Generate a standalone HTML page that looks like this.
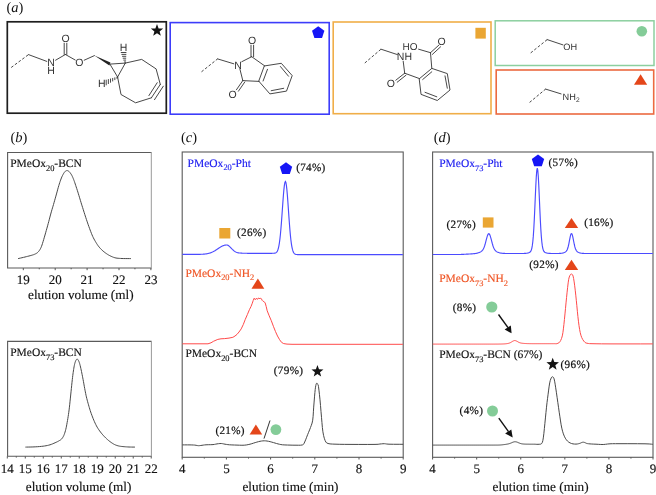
<!DOCTYPE html>
<html><head><meta charset="utf-8"><title>Figure</title>
<style>html,body{margin:0;padding:0;background:#fff}svg{display:block;will-change:transform;text-rendering:geometricPrecision}</style></head>
<body><svg width="656" height="495" viewBox="0 0 656 495">
<rect width="656" height="495" fill="#fff"/>
<text x="6.5" y="11.9" font-family="'Liberation Serif', serif" font-size="14.5" fill="#111">(<tspan font-style="italic">a</tspan>)</text>
<rect x="7.3" y="21.8" width="159" height="91.4" fill="none" stroke="#1e1e1e" stroke-width="1.7"/>
<rect x="170.2" y="22.6" width="159" height="91.6" fill="none" stroke="#3d3dfa" stroke-width="1.6"/>
<rect x="333.2" y="22.0" width="157.8" height="91.7" fill="none" stroke="#f0ae48" stroke-width="1.6"/>
<rect x="495.2" y="20.8" width="158.8" height="44.7" fill="none" stroke="#8ccf9f" stroke-width="1.5"/>
<rect x="496.2" y="70.0" width="157.5" height="44.0" fill="none" stroke="#ec6a40" stroke-width="1.6"/>
<polygon points="157.00,24.10 158.60,28.39 163.18,28.59 159.60,31.44 160.82,35.86 157.00,33.33 153.18,35.86 154.40,31.44 150.82,28.59 155.40,28.39" fill="#141414"/>
<polygon points="318.20,26.20 324.38,30.69 322.02,37.96 314.38,37.96 312.02,30.69" fill="#1616f6"/>
<rect x="475.4" y="27.8" width="10.4" height="10.8" fill="#eaa633"/>
<circle cx="641.8" cy="31.2" r="5.3" fill="#84cc98"/>
<polygon points="640.60,74.20 647.20,84.80 634.00,84.80" fill="#e4461a"/>
<g stroke="#333" stroke-width="0.9" fill="none" stroke-linecap="round"><line x1="11.2" y1="67.5" x2="28.5" y2="54.6" stroke-dasharray="2.7,1.9" stroke-linecap="butt"/>
<line x1="28.5" y1="54.6" x2="46.8" y2="61.4" />
<text x="51" y="66.3" font-family="'Liberation Sans', sans-serif" font-size="10.5" fill="#333" stroke="none" text-anchor="middle">N</text>
<text x="51" y="73.8" font-family="'Liberation Sans', sans-serif" font-size="10.5" fill="#333" stroke="none" text-anchor="middle">H</text>
<line x1="55.6" y1="60.2" x2="65.4" y2="54.5" />
<line x1="64.2" y1="54.5" x2="64.2" y2="43.2" />
<line x1="66.8" y1="54.5" x2="66.8" y2="43.2" />
<text x="65.6" y="41.6" font-family="'Liberation Sans', sans-serif" font-size="10.5" fill="#333" stroke="none" text-anchor="middle">O</text>
<line x1="65.4" y1="54.5" x2="75.2" y2="60.0" />
<text x="79.4" y="66.3" font-family="'Liberation Sans', sans-serif" font-size="10.5" fill="#333" stroke="none" text-anchor="middle">O</text>
<line x1="84.2" y1="60.2" x2="94.4" y2="55.6" />
<polygon points="94.4,55.6 110.4,62.6 109.4,65.6" fill="#222" stroke="none"/>
<line x1="109.9" y1="64.1" x2="125.3" y2="63.1" />
<line x1="109.9" y1="64.1" x2="117.6" y2="77.0" />
<line x1="125.3" y1="63.1" x2="117.6" y2="77.0" />
<line x1="124.40" y1="62.00" x2="125.60" y2="62.00" />
<line x1="123.76" y1="60.10" x2="125.68" y2="60.10" />
<line x1="123.12" y1="58.20" x2="125.76" y2="58.20" />
<line x1="122.48" y1="56.30" x2="125.84" y2="56.30" />
<line x1="121.84" y1="54.40" x2="125.92" y2="54.40" />
<line x1="121.20" y1="52.50" x2="126.00" y2="52.50" />
<text x="123.6" y="51.2" font-family="'Liberation Sans', sans-serif" font-size="10.5" fill="#333" stroke="none" text-anchor="middle">H</text>
<line x1="117.00" y1="77.20" x2="117.00" y2="78.40" />
<line x1="114.84" y1="77.78" x2="114.84" y2="79.70" />
<line x1="112.68" y1="78.36" x2="112.68" y2="81.00" />
<line x1="110.52" y1="78.94" x2="110.52" y2="82.30" />
<line x1="108.36" y1="79.52" x2="108.36" y2="83.60" />
<line x1="106.20" y1="80.10" x2="106.20" y2="84.90" />
<text x="101.8" y="86.8" font-family="'Liberation Sans', sans-serif" font-size="10.5" fill="#333" stroke="none" text-anchor="middle">H</text>
<polyline points="125.3,63.1 141.7,59.4 156.1,68.9 160.3,84.4"/>
<polyline points="151.4,97.8 135.6,102.8 121,94.5 117.6,77.0"/>
<line x1="160.3" y1="84.4" x2="151.4" y2="97.8" />
<line x1="157.2" y1="82.7" x2="148.9" y2="95.6" />
<line x1="163.3" y1="86.2" x2="154.5" y2="99.7" />
<line x1="201.5" y1="71.8" x2="217.6" y2="58.9" stroke-dasharray="2.7,1.9" stroke-linecap="butt"/>
<line x1="217.6" y1="58.9" x2="233.8" y2="63.8" />
<text x="238" y="68.9" font-family="'Liberation Sans', sans-serif" font-size="10.5" fill="#333" stroke="none" text-anchor="middle">N</text>
<line x1="241.8" y1="61.7" x2="251.7" y2="56.7" />
<line x1="251.0" y1="56.7" x2="251.0" y2="45.2" />
<line x1="253.6" y1="56.7" x2="253.6" y2="45.2" />
<text x="252" y="43.6" font-family="'Liberation Sans', sans-serif" font-size="10.5" fill="#333" stroke="none" text-anchor="middle">O</text>
<line x1="240.0" y1="69.4" x2="242.8" y2="80.6" />
<line x1="242.8" y1="80.6" x2="236.4" y2="89.8" />
<line x1="244.8" y1="82.0" x2="238.4" y2="91.2" />
<text x="232.6" y="97.7" font-family="'Liberation Sans', sans-serif" font-size="10.5" fill="#333" stroke="none" text-anchor="middle">O</text>
<line x1="251.7" y1="56.7" x2="264.7" y2="65.9" />
<line x1="259" y1="81.4" x2="242.8" y2="80.6" />
<polygon points="264.7,65.9 281.3,63.3 292.2,75.6 286.5,91.1 269.9,93.9 259,81.4"/>
<line x1="267.5" y1="69.3" x2="263.1" y2="81.0" />
<line x1="280.4" y1="66.5" x2="288.5" y2="76.2" />
<line x1="271.2" y1="90.7" x2="283.7" y2="88.3" />
<line x1="364.8" y1="63" x2="381" y2="49.2" stroke-dasharray="2.7,1.9" stroke-linecap="butt"/>
<line x1="381" y1="49.2" x2="397.4" y2="54.6" />
<text x="404.4" y="59.6" font-family="'Liberation Sans', sans-serif" font-size="10.5" fill="#333" stroke="none" text-anchor="middle">NH</text>
<line x1="403.2" y1="61.2" x2="404.7" y2="73.2" />
<line x1="404.7" y1="73.2" x2="395.8" y2="80.2" />
<line x1="406.0" y1="75.2" x2="397.2" y2="82.2" />
<text x="390.8" y="86.8" font-family="'Liberation Sans', sans-serif" font-size="10.5" fill="#333" stroke="none" text-anchor="middle">O</text>
<line x1="404.7" y1="73.2" x2="419.5" y2="78.6" />
<polygon points="419.5,78.6 431.8,68.4 447.3,73.6 450,90 437.3,100.5 421.4,94.5"/>
<line x1="422.7" y1="79.5" x2="431.8" y2="71.8" />
<line x1="445" y1="75.9" x2="447.3" y2="88.2" />
<line x1="425" y1="92.3" x2="436.8" y2="96.8" />
<line x1="431.8" y1="68.4" x2="430.5" y2="52.7" />
<line x1="430.5" y1="52.7" x2="438.8" y2="45.2" />
<line x1="432.4" y1="54.4" x2="440.6" y2="46.8" />
<text x="441.6" y="45.2" font-family="'Liberation Sans', sans-serif" font-size="10.5" fill="#333" stroke="none" text-anchor="middle">O</text>
<line x1="430.5" y1="52.7" x2="418.6" y2="49.2" />
<text x="410.0" y="49.8" font-family="'Liberation Sans', sans-serif" font-size="10" fill="#333" stroke="none" text-anchor="middle">HO</text>
<line x1="530.7" y1="52.9" x2="547.2" y2="39.6" stroke-dasharray="2.7,1.9" stroke-linecap="butt"/>
<line x1="547.2" y1="39.6" x2="563.0" y2="44.9" />
<text x="570.2" y="49.8" font-family="'Liberation Sans', sans-serif" font-size="9.2" fill="#333" stroke="none" text-anchor="middle">OH</text>
<line x1="529.6" y1="102.4" x2="545.6" y2="89.1" stroke-dasharray="2.7,1.9" stroke-linecap="butt"/>
<line x1="545.6" y1="89.1" x2="561.1" y2="93.9" />
<text x="562.6" y="99.8" font-family="'Liberation Sans', sans-serif" font-size="9.2" fill="#333" stroke="none">NH<tspan font-size="6.6" dy="2.2">2</tspan></text></g>
<text x="10.5" y="141.6" font-family="'Liberation Serif', serif" font-size="14.5" fill="#111">(<tspan font-style="italic">b</tspan>)</text>
<path d="M151.3,152.5 H7.6 V268 H151.3" fill="none" stroke="#5a5a5a" stroke-width="1.1"/>
<line x1="151.3" y1="152" x2="151.3" y2="268.5" stroke="#999" stroke-width="1"/>
<line x1="23.30" y1="268.0" x2="23.30" y2="270.2" stroke="#555" stroke-width="1"/>
<text x="23.30" y="284.1" font-family="'Liberation Serif', serif" font-size="13" text-anchor="middle" fill="#111" stroke="#111" stroke-width="0.15">19</text>
<line x1="39.25" y1="268.0" x2="39.25" y2="269.3" stroke="#555" stroke-width="1"/>
<line x1="55.20" y1="268.0" x2="55.20" y2="270.2" stroke="#555" stroke-width="1"/>
<text x="55.20" y="284.1" font-family="'Liberation Serif', serif" font-size="13" text-anchor="middle" fill="#111" stroke="#111" stroke-width="0.15">20</text>
<line x1="71.15" y1="268.0" x2="71.15" y2="269.3" stroke="#555" stroke-width="1"/>
<line x1="87.10" y1="268.0" x2="87.10" y2="270.2" stroke="#555" stroke-width="1"/>
<text x="87.10" y="284.1" font-family="'Liberation Serif', serif" font-size="13" text-anchor="middle" fill="#111" stroke="#111" stroke-width="0.15">21</text>
<line x1="103.05" y1="268.0" x2="103.05" y2="269.3" stroke="#555" stroke-width="1"/>
<line x1="119.00" y1="268.0" x2="119.00" y2="270.2" stroke="#555" stroke-width="1"/>
<text x="119.00" y="284.1" font-family="'Liberation Serif', serif" font-size="13" text-anchor="middle" fill="#111" stroke="#111" stroke-width="0.15">22</text>
<line x1="134.95" y1="268.0" x2="134.95" y2="269.3" stroke="#555" stroke-width="1"/>
<line x1="150.90" y1="268.0" x2="150.90" y2="270.2" stroke="#555" stroke-width="1"/>
<text x="150.90" y="284.1" font-family="'Liberation Serif', serif" font-size="13" text-anchor="middle" fill="#111" stroke="#111" stroke-width="0.15">23</text>
<path d="M18.10,258.60 L19.05,258.38 L20.40,258.08 L21.96,257.72 L23.55,257.35 L25.00,257.00 L26.33,256.67 L27.67,256.34 L28.96,256.00 L30.16,255.69 L31.20,255.40 L32.05,255.16 L32.74,254.95 L33.34,254.76 L33.91,254.55 L34.50,254.30 L35.13,254.02 L35.75,253.73 L36.35,253.41 L36.94,253.04 L37.50,252.60 L38.04,252.09 L38.56,251.53 L39.06,250.91 L39.54,250.23 L40.00,249.50 L40.42,248.78 L40.79,248.06 L41.15,247.26 L41.54,246.27 L42.00,245.00 L42.53,243.37 L43.12,241.46 L43.74,239.36 L44.37,237.18 L45.00,235.00 L45.63,232.80 L46.28,230.50 L46.94,228.17 L47.58,225.85 L48.20,223.60 L48.79,221.40 L49.36,219.20 L49.92,217.05 L50.47,214.97 L51.00,213.00 L51.52,211.18 L52.01,209.50 L52.50,207.87 L52.99,206.23 L53.50,204.50 L54.03,202.66 L54.57,200.77 L55.12,198.84 L55.66,196.91 L56.20,195.00 L56.73,193.07 L57.27,191.10 L57.79,189.15 L58.31,187.30 L58.80,185.60 L59.27,184.07 L59.72,182.65 L60.15,181.35 L60.58,180.13 L61.00,179.00 L61.41,177.96 L61.81,177.01 L62.21,176.15 L62.60,175.36 L63.00,174.60 L63.40,173.88 L63.81,173.20 L64.21,172.59 L64.61,172.05 L65.00,171.60 L65.37,171.24 L65.72,170.97 L66.08,170.78 L66.43,170.66 L66.80,170.60 L67.18,170.59 L67.55,170.62 L67.94,170.74 L68.35,170.95 L68.80,171.30 L69.30,171.80 L69.86,172.45 L70.43,173.19 L70.99,173.98 L71.50,174.80 L71.96,175.63 L72.38,176.49 L72.79,177.41 L73.19,178.37 L73.60,179.40 L74.01,180.47 L74.41,181.58 L74.82,182.76 L75.24,184.02 L75.70,185.40 L76.20,186.92 L76.74,188.58 L77.30,190.31 L77.86,192.07 L78.40,193.80 L78.92,195.51 L79.44,197.23 L79.96,198.95 L80.48,200.68 L81.00,202.40 L81.53,204.12 L82.07,205.85 L82.62,207.57 L83.16,209.29 L83.70,211.00 L84.23,212.68 L84.76,214.35 L85.29,216.01 L85.83,217.69 L86.40,219.40 L86.99,221.16 L87.61,222.96 L88.23,224.77 L88.87,226.56 L89.50,228.30 L90.13,230.00 L90.77,231.69 L91.41,233.34 L92.05,234.92 L92.70,236.40 L93.36,237.77 L94.02,239.06 L94.69,240.27 L95.35,241.41 L96.00,242.50 L96.62,243.51 L97.22,244.44 L97.81,245.31 L98.43,246.16 L99.10,247.00 L99.82,247.84 L100.57,248.66 L101.35,249.47 L102.16,250.25 L103.00,251.00 L103.88,251.74 L104.81,252.46 L105.76,253.16 L106.69,253.81 L107.60,254.40 L108.47,254.93 L109.31,255.40 L110.14,255.84 L110.97,256.23 L111.80,256.60 L112.61,256.95 L113.39,257.26 L114.19,257.54 L115.04,257.79 L116.00,258.00 L117.04,258.16 L118.13,258.28 L119.30,258.37 L120.59,258.44 L122.00,258.50 L123.74,258.55 L125.78,258.57 L127.84,258.59 L129.64,258.59 L130.90,258.60" fill="none" stroke="#484848" stroke-width="1"/>
<text x="10.2" y="167.2" font-family="'Liberation Serif', serif" font-size="11.5" fill="#111" stroke="#111" stroke-width="0.15">PMeOx<tspan font-size="8.4" dy="3.8">20</tspan><tspan dy="-3.8">-BCN</tspan></text>
<text x="80.8" y="299.3" font-family="'Liberation Serif', serif" font-size="13.2" text-anchor="middle" fill="#111" stroke="#111" stroke-width="0.15">elution volume (ml)</text>
<path d="M151.4,341.4 H7.6 V456.3 H151.4" fill="none" stroke="#5a5a5a" stroke-width="1.1"/>
<line x1="151.4" y1="340.9" x2="151.4" y2="456.8" stroke="#999" stroke-width="1"/>
<line x1="7.30" y1="456.3" x2="7.30" y2="458.5" stroke="#555" stroke-width="1"/>
<text x="7.30" y="473.4" font-family="'Liberation Serif', serif" font-size="13" text-anchor="middle" fill="#111" stroke="#111" stroke-width="0.15">14</text>
<line x1="16.29" y1="456.3" x2="16.29" y2="457.6" stroke="#555" stroke-width="1"/>
<line x1="25.29" y1="456.3" x2="25.29" y2="458.5" stroke="#555" stroke-width="1"/>
<text x="25.29" y="473.4" font-family="'Liberation Serif', serif" font-size="13" text-anchor="middle" fill="#111" stroke="#111" stroke-width="0.15">15</text>
<line x1="34.28" y1="456.3" x2="34.28" y2="457.6" stroke="#555" stroke-width="1"/>
<line x1="43.28" y1="456.3" x2="43.28" y2="458.5" stroke="#555" stroke-width="1"/>
<text x="43.28" y="473.4" font-family="'Liberation Serif', serif" font-size="13" text-anchor="middle" fill="#111" stroke="#111" stroke-width="0.15">16</text>
<line x1="52.27" y1="456.3" x2="52.27" y2="457.6" stroke="#555" stroke-width="1"/>
<line x1="61.27" y1="456.3" x2="61.27" y2="458.5" stroke="#555" stroke-width="1"/>
<text x="61.27" y="473.4" font-family="'Liberation Serif', serif" font-size="13" text-anchor="middle" fill="#111" stroke="#111" stroke-width="0.15">17</text>
<line x1="70.26" y1="456.3" x2="70.26" y2="457.6" stroke="#555" stroke-width="1"/>
<line x1="79.26" y1="456.3" x2="79.26" y2="458.5" stroke="#555" stroke-width="1"/>
<text x="79.26" y="473.4" font-family="'Liberation Serif', serif" font-size="13" text-anchor="middle" fill="#111" stroke="#111" stroke-width="0.15">18</text>
<line x1="88.25" y1="456.3" x2="88.25" y2="457.6" stroke="#555" stroke-width="1"/>
<line x1="97.25" y1="456.3" x2="97.25" y2="458.5" stroke="#555" stroke-width="1"/>
<text x="97.25" y="473.4" font-family="'Liberation Serif', serif" font-size="13" text-anchor="middle" fill="#111" stroke="#111" stroke-width="0.15">19</text>
<line x1="106.24" y1="456.3" x2="106.24" y2="457.6" stroke="#555" stroke-width="1"/>
<line x1="115.24" y1="456.3" x2="115.24" y2="458.5" stroke="#555" stroke-width="1"/>
<text x="115.24" y="473.4" font-family="'Liberation Serif', serif" font-size="13" text-anchor="middle" fill="#111" stroke="#111" stroke-width="0.15">20</text>
<line x1="124.23" y1="456.3" x2="124.23" y2="457.6" stroke="#555" stroke-width="1"/>
<line x1="133.23" y1="456.3" x2="133.23" y2="458.5" stroke="#555" stroke-width="1"/>
<text x="133.23" y="473.4" font-family="'Liberation Serif', serif" font-size="13" text-anchor="middle" fill="#111" stroke="#111" stroke-width="0.15">21</text>
<line x1="142.22" y1="456.3" x2="142.22" y2="457.6" stroke="#555" stroke-width="1"/>
<line x1="151.22" y1="456.3" x2="151.22" y2="458.5" stroke="#555" stroke-width="1"/>
<text x="151.22" y="473.4" font-family="'Liberation Serif', serif" font-size="13" text-anchor="middle" fill="#111" stroke="#111" stroke-width="0.15">22</text>
<path d="M25.40,447.10 L26.56,447.08 L28.20,447.06 L30.11,447.03 L32.11,446.98 L34.00,446.90 L35.82,446.80 L37.71,446.69 L39.59,446.55 L41.41,446.39 L43.10,446.20 L44.63,445.98 L46.06,445.74 L47.40,445.47 L48.71,445.16 L50.00,444.80 L51.32,444.35 L52.65,443.83 L53.93,443.28 L55.10,442.75 L56.10,442.30 L56.89,441.94 L57.51,441.64 L58.02,441.37 L58.50,441.10 L59.00,440.80 L59.53,440.50 L60.04,440.23 L60.53,439.93 L61.02,439.56 L61.50,439.10 L61.98,438.54 L62.45,437.92 L62.91,437.22 L63.36,436.42 L63.80,435.50 L64.22,434.47 L64.64,433.33 L65.04,432.09 L65.42,430.75 L65.80,429.30 L66.16,427.74 L66.51,426.05 L66.84,424.27 L67.17,422.42 L67.50,420.50 L67.83,418.56 L68.15,416.60 L68.46,414.54 L68.78,412.32 L69.10,409.90 L69.42,407.20 L69.74,404.27 L70.06,401.20 L70.38,398.08 L70.70,395.00 L71.03,391.84 L71.36,388.55 L71.70,385.29 L72.01,382.25 L72.30,379.60 L72.55,377.41 L72.78,375.56 L72.98,373.96 L73.19,372.47 L73.40,371.00 L73.62,369.54 L73.83,368.17 L74.05,366.88 L74.27,365.69 L74.50,364.60 L74.75,363.61 L75.01,362.71 L75.27,361.90 L75.54,361.20 L75.80,360.60 L76.06,360.09 L76.32,359.68 L76.57,359.36 L76.83,359.17 L77.10,359.10 L77.37,359.17 L77.65,359.37 L77.94,359.68 L78.22,360.10 L78.50,360.60 L78.78,361.18 L79.05,361.84 L79.33,362.60 L79.61,363.48 L79.90,364.50 L80.21,365.68 L80.53,367.02 L80.85,368.47 L81.18,369.98 L81.50,371.50 L81.82,373.04 L82.14,374.62 L82.46,376.25 L82.78,377.91 L83.10,379.60 L83.42,381.34 L83.74,383.13 L84.05,384.94 L84.37,386.74 L84.70,388.50 L85.03,390.22 L85.35,391.92 L85.69,393.60 L86.03,395.26 L86.40,396.90 L86.79,398.52 L87.21,400.13 L87.63,401.71 L88.07,403.27 L88.50,404.80 L88.92,406.27 L89.33,407.68 L89.75,409.08 L90.20,410.51 L90.70,412.00 L91.26,413.60 L91.86,415.27 L92.50,416.96 L93.15,418.62 L93.80,420.20 L94.45,421.69 L95.10,423.13 L95.77,424.53 L96.46,425.88 L97.20,427.20 L97.99,428.48 L98.81,429.73 L99.67,430.93 L100.53,432.09 L101.40,433.20 L102.27,434.26 L103.16,435.26 L104.04,436.22 L104.93,437.14 L105.80,438.00 L106.65,438.81 L107.48,439.56 L108.31,440.27 L109.14,440.94 L110.00,441.60 L110.88,442.25 L111.79,442.88 L112.70,443.47 L113.61,444.02 L114.50,444.50 L115.37,444.90 L116.23,445.24 L117.09,445.53 L117.94,445.78 L118.80,446.00 L119.63,446.18 L120.44,446.31 L121.26,446.42 L122.14,446.51 L123.10,446.60 L124.18,446.70 L125.34,446.79 L126.56,446.87 L127.79,446.94 L129.00,447.00 L130.29,447.04 L131.68,447.07 L133.03,447.08 L134.18,447.09 L135.00,447.10" fill="none" stroke="#484848" stroke-width="1"/>
<text x="10.2" y="355.8" font-family="'Liberation Serif', serif" font-size="11.5" fill="#111" stroke="#111" stroke-width="0.15">PMeOx<tspan font-size="8.4" dy="3.8">73</tspan><tspan dy="-3.8">-BCN</tspan></text>
<text x="78.6" y="491.2" font-family="'Liberation Serif', serif" font-size="13.2" text-anchor="middle" fill="#111" stroke="#111" stroke-width="0.15">elution volume (ml)</text>
<text x="181" y="141.6" font-family="'Liberation Serif', serif" font-size="14.5" fill="#111">(<tspan font-style="italic">c</tspan>)</text>
<rect x="182.2" y="152.0" width="221.0" height="305.3" fill="none" stroke="#5a5a5a" stroke-width="1.1"/>
<line x1="182.20" y1="457.3" x2="182.20" y2="459.5" stroke="#555" stroke-width="1"/>
<text x="182.20" y="472.5" font-family="'Liberation Serif', serif" font-size="13" text-anchor="middle" fill="#111" stroke="#111" stroke-width="0.15">4</text>
<line x1="204.30" y1="457.3" x2="204.30" y2="458.6" stroke="#555" stroke-width="1"/>
<line x1="226.40" y1="457.3" x2="226.40" y2="459.5" stroke="#555" stroke-width="1"/>
<text x="226.40" y="472.5" font-family="'Liberation Serif', serif" font-size="13" text-anchor="middle" fill="#111" stroke="#111" stroke-width="0.15">5</text>
<line x1="248.50" y1="457.3" x2="248.50" y2="458.6" stroke="#555" stroke-width="1"/>
<line x1="270.60" y1="457.3" x2="270.60" y2="459.5" stroke="#555" stroke-width="1"/>
<text x="270.60" y="472.5" font-family="'Liberation Serif', serif" font-size="13" text-anchor="middle" fill="#111" stroke="#111" stroke-width="0.15">6</text>
<line x1="292.70" y1="457.3" x2="292.70" y2="458.6" stroke="#555" stroke-width="1"/>
<line x1="314.80" y1="457.3" x2="314.80" y2="459.5" stroke="#555" stroke-width="1"/>
<text x="314.80" y="472.5" font-family="'Liberation Serif', serif" font-size="13" text-anchor="middle" fill="#111" stroke="#111" stroke-width="0.15">7</text>
<line x1="336.90" y1="457.3" x2="336.90" y2="458.6" stroke="#555" stroke-width="1"/>
<line x1="359.00" y1="457.3" x2="359.00" y2="459.5" stroke="#555" stroke-width="1"/>
<text x="359.00" y="472.5" font-family="'Liberation Serif', serif" font-size="13" text-anchor="middle" fill="#111" stroke="#111" stroke-width="0.15">8</text>
<line x1="381.10" y1="457.3" x2="381.10" y2="458.6" stroke="#555" stroke-width="1"/>
<line x1="403.20" y1="457.3" x2="403.20" y2="459.5" stroke="#555" stroke-width="1"/>
<text x="403.20" y="472.5" font-family="'Liberation Serif', serif" font-size="13" text-anchor="middle" fill="#111" stroke="#111" stroke-width="0.15">9</text>
<text x="290.4" y="490.6" font-family="'Liberation Serif', serif" font-size="13.2" text-anchor="middle" fill="#111" stroke="#111" stroke-width="0.15">elution time (min)</text>
<path d="M182.40,254.40 L182.90,254.40 L183.40,254.40 L183.90,254.40 L184.40,254.40 L184.90,254.40 L185.40,254.40 L185.90,254.40 L186.40,254.40 L186.90,254.40 L187.40,254.40 L187.90,254.40 L188.40,254.40 L188.90,254.40 L189.40,254.40 L189.90,254.40 L190.40,254.40 L190.90,254.40 L191.40,254.40 L191.90,254.40 L192.40,254.40 L192.90,254.40 L193.40,254.40 L193.90,254.39 L194.40,254.39 L194.90,254.39 L195.40,254.39 L195.90,254.39 L196.40,254.38 L196.90,254.38 L197.40,254.37 L197.90,254.37 L198.40,254.36 L198.90,254.35 L199.40,254.34 L199.90,254.33 L200.40,254.32 L200.90,254.30 L201.40,254.28 L201.90,254.26 L202.40,254.23 L202.90,254.20 L203.40,254.17 L203.90,254.13 L204.40,254.08 L204.90,254.03 L205.40,253.97 L205.90,253.90 L206.40,253.83 L206.90,253.74 L207.40,253.65 L207.90,253.54 L208.40,253.43 L208.90,253.30 L209.40,253.16 L209.90,253.00 L210.40,252.84 L210.90,252.66 L211.40,252.46 L211.90,252.25 L212.40,252.03 L212.90,251.79 L213.40,251.53 L213.90,251.27 L214.40,250.99 L214.90,250.70 L215.40,250.39 L215.90,250.08 L216.40,249.76 L216.90,249.43 L217.40,249.10 L217.90,248.77 L218.40,248.43 L218.90,248.10 L219.40,247.77 L219.90,247.45 L220.40,247.13 L220.90,246.83 L221.40,246.55 L221.90,246.28 L222.40,246.03 L222.90,245.81 L223.40,245.60 L223.90,245.43 L224.40,245.28 L224.90,245.17 L225.40,245.08 L225.90,245.02 L226.40,245.00 L226.90,245.03 L227.40,245.14 L227.90,245.33 L228.40,245.61 L228.90,245.95 L229.40,246.35 L229.90,246.81 L230.40,247.30 L230.90,247.83 L231.40,248.37 L231.90,248.92 L232.40,249.41 L232.90,249.87 L233.40,250.31 L233.90,250.72 L234.40,251.11 L234.90,251.45 L235.40,251.76 L235.90,252.03 L236.40,252.26 L236.90,252.45 L237.40,252.61 L237.90,252.74 L238.40,252.83 L238.90,252.90 L239.40,252.95 L239.90,252.97 L240.40,253.04 L240.90,253.10 L241.40,253.15 L241.90,253.18 L242.40,253.21 L242.90,253.23 L243.40,253.25 L243.90,253.27 L244.40,253.27 L244.90,253.28 L245.40,253.29 L245.90,253.29 L246.40,253.29 L246.90,253.30 L247.40,253.30 L247.90,253.30 L248.40,253.30 L248.90,253.30 L249.40,253.30 L249.90,253.30 L250.40,253.30 L250.90,253.30 L251.40,253.30 L251.90,253.30 L252.40,253.30 L252.90,253.30 L253.40,253.30 L253.90,253.30 L254.40,253.30 L254.90,253.30 L255.40,253.30 L255.90,253.30 L256.40,253.30 L256.90,253.30 L257.40,253.30 L257.90,253.30 L258.40,253.30 L258.90,253.30 L259.40,253.30 L259.90,253.30 L260.40,253.30 L260.90,253.30 L261.40,253.30 L261.90,253.30 L262.40,253.30 L262.90,253.30 L263.40,253.30 L263.90,253.30 L264.40,253.30 L264.90,253.30 L265.40,253.30 L265.90,253.30 L266.40,253.30 L266.90,253.30 L267.40,253.30 L267.90,253.30 L268.40,253.30 L268.90,253.30 L269.40,253.30 L269.90,253.30 L270.40,253.30 L270.90,253.30 L271.40,253.30 L271.90,253.30 L272.40,253.29 L272.90,253.28 L273.40,253.27 L273.90,253.24 L274.40,253.19 L274.90,253.11 L275.40,252.97 L275.90,252.73 L276.40,252.37 L276.90,251.81 L277.40,250.98 L277.90,249.78 L278.40,248.11 L278.90,245.84 L279.40,242.86 L279.90,239.08 L280.40,234.47 L280.90,229.03 L281.40,222.83 L281.90,216.04 L282.40,208.94 L282.90,201.88 L283.40,195.28 L283.90,189.57 L284.40,185.16 L284.90,182.39 L285.40,181.47 L285.90,182.48 L286.40,185.34 L286.90,189.83 L287.40,195.63 L287.90,202.31 L288.40,209.46 L288.90,216.64 L289.40,223.52 L289.90,229.81 L290.40,235.34 L290.90,240.02 L291.40,243.85 L291.90,246.87 L292.40,249.18 L292.90,250.90 L293.40,252.14 L293.90,253.02 L294.40,253.62 L294.90,254.03 L295.40,254.27 L295.90,254.41 L296.40,254.49 L296.90,254.54 L297.40,254.57 L297.90,254.58 L298.40,254.59 L298.90,254.60 L299.40,254.60 L299.90,254.60 L300.40,254.60 L300.90,254.60 L301.40,254.60 L301.90,254.60 L302.40,254.60 L302.90,254.60 L303.40,254.60 L303.90,254.60 L304.40,254.60 L304.90,254.60 L305.40,254.60 L305.90,254.60 L306.40,254.60 L306.90,254.60 L307.40,254.60 L307.90,254.60 L308.40,254.60 L308.90,254.60 L309.40,254.60 L309.90,254.60 L310.40,254.60 L310.90,254.60 L311.40,254.60 L311.90,254.60 L312.40,254.60 L312.90,254.60 L313.40,254.60 L313.90,254.60 L314.40,254.60 L314.90,254.60 L315.40,254.60 L315.90,254.60 L316.40,254.60 L316.90,254.60 L317.40,254.60 L317.90,254.60 L318.40,254.60 L318.90,254.60 L319.40,254.60 L319.90,254.60 L320.40,254.60 L320.90,254.60 L321.40,254.60 L321.90,254.60 L322.40,254.60 L322.90,254.60 L323.40,254.60 L323.90,254.60 L324.40,254.60 L324.90,254.60 L325.40,254.60 L325.90,254.60 L326.40,254.60 L326.90,254.60 L327.40,254.60 L327.90,254.60 L328.40,254.60 L328.90,254.60 L329.40,254.60 L329.90,254.60 L330.40,254.60 L330.90,254.60 L331.40,254.60 L331.90,254.60 L332.40,254.60 L332.90,254.60 L333.40,254.60 L333.90,254.60 L334.40,254.60 L334.90,254.60 L335.40,254.60 L335.90,254.60 L336.40,254.60 L336.90,254.60 L337.40,254.60 L337.90,254.60 L338.40,254.60 L338.90,254.60 L339.40,254.60 L339.90,254.60 L340.40,254.60 L340.90,254.60 L341.40,254.60 L341.90,254.60 L342.40,254.60 L342.90,254.60 L343.40,254.60 L343.90,254.60 L344.40,254.60 L344.90,254.60 L345.40,254.60 L345.90,254.60 L346.40,254.60 L346.90,254.60 L347.40,254.60 L347.90,254.60 L348.40,254.60 L348.90,254.60 L349.40,254.60 L349.90,254.60 L350.40,254.60 L350.90,254.60 L351.40,254.60 L351.90,254.60 L352.40,254.60 L352.90,254.60 L353.40,254.60 L353.90,254.60 L354.40,254.60 L354.90,254.60 L355.40,254.60 L355.90,254.60 L356.40,254.60 L356.90,254.60 L357.40,254.60 L357.90,254.60 L358.40,254.60 L358.90,254.60 L359.40,254.60 L359.90,254.60 L360.40,254.60 L360.90,254.60 L361.40,254.60 L361.90,254.60 L362.40,254.60 L362.90,254.60 L363.40,254.60 L363.90,254.60 L364.40,254.60 L364.90,254.60 L365.40,254.60 L365.90,254.60 L366.40,254.60 L366.90,254.60 L367.40,254.60 L367.90,254.60 L368.40,254.60 L368.90,254.60 L369.40,254.60 L369.90,254.60 L370.40,254.60 L370.90,254.60 L371.40,254.60 L371.90,254.60 L372.40,254.60 L372.90,254.60 L373.40,254.60 L373.90,254.60 L374.40,254.60 L374.90,254.60 L375.40,254.60 L375.90,254.60 L376.40,254.60 L376.90,254.60 L377.40,254.60 L377.90,254.60 L378.40,254.60 L378.90,254.60 L379.40,254.60 L379.90,254.60 L380.40,254.60 L380.90,254.60 L381.40,254.60 L381.90,254.60 L382.40,254.60 L382.90,254.60 L383.40,254.60 L383.90,254.60 L384.40,254.60 L384.90,254.60 L385.40,254.60 L385.90,254.60 L386.40,254.60 L386.90,254.60 L387.40,254.60 L387.90,254.60 L388.40,254.60 L388.90,254.60 L389.40,254.60 L389.90,254.60 L390.40,254.60 L390.90,254.60 L391.40,254.60 L391.90,254.60 L392.40,254.60 L392.90,254.60 L393.40,254.60 L393.90,254.60 L394.40,254.60 L394.90,254.60 L395.40,254.60 L395.90,254.60 L396.40,254.60 L396.90,254.60 L397.40,254.60 L397.90,254.60 L398.40,254.60 L398.90,254.60 L399.40,254.60 L399.90,254.60 L400.40,254.60 L400.90,254.60 L401.40,254.60 L401.90,254.60 L402.40,254.60 L402.90,254.60" fill="none" stroke="#4b4bff" stroke-width="1.15"/>
<path d="M182.40,343.80 L200.00,343.80 L208.00,343.80 L211.00,342.80 L213.70,341.20 L217.80,339.40 L221.00,338.80 L224.70,338.60 L229.00,338.10 L232.90,337.30 L235.00,336.00 L237.00,334.40 L239.00,332.00 L241.20,328.90 L243.30,324.50 L245.30,319.30 L247.40,314.50 L249.40,309.70 L251.00,306.50 L252.30,303.20 L253.20,300.50 L254.20,298.20 L255.00,299.60 L255.80,299.20 L256.60,298.20 L257.40,299.40 L258.20,298.30 L259.00,298.00 L259.80,299.00 L260.60,298.20 L261.40,298.70 L262.20,300.40 L263.10,301.30 L264.00,301.50 L265.20,303.00 L266.20,306.50 L267.20,310.80 L269.20,315.80 L271.30,320.70 L273.40,326.30 L275.50,331.60 L277.50,336.00 L279.60,339.70 L281.60,342.40 L283.70,343.60 L287.00,344.10 L292.00,344.30 L402.90,344.30" fill="none" stroke="#ff4a4a" stroke-width="1"/>
<path d="M182.40,444.90 L184.47,444.89 L187.39,444.89 L190.00,444.90 L191.85,444.94 L193.39,445.00 L194.80,445.10 L196.12,445.31 L197.32,445.56 L198.50,445.70 L199.66,445.64 L200.80,445.48 L202.00,445.30 L203.19,445.13 L204.43,444.95 L206.00,444.80 L208.22,444.73 L210.78,444.69 L213.00,444.60 L214.54,444.39 L215.76,444.13 L217.00,443.90 L218.43,443.70 L219.90,443.54 L221.30,443.50 L222.54,443.66 L223.72,443.93 L225.00,444.20 L226.36,444.42 L227.83,444.63 L229.60,444.80 L231.87,444.93 L234.44,445.03 L237.00,445.10 L239.47,445.19 L241.91,445.26 L244.20,445.20 L246.26,444.97 L248.16,444.62 L250.00,444.20 L251.79,443.70 L253.52,443.13 L255.20,442.60 L256.85,442.11 L258.45,441.66 L260.00,441.30 L261.47,441.04 L262.89,440.86 L264.30,440.80 L265.68,440.86 L267.04,441.04 L268.50,441.30 L270.13,441.67 L271.84,442.14 L273.50,442.60 L275.03,443.05 L276.51,443.50 L278.00,443.90 L279.42,444.25 L280.86,444.56 L282.60,444.80 L284.91,444.95 L287.53,445.04 L290.00,445.10 L292.09,445.16 L294.01,445.20 L296.00,445.20 L298.29,445.23 L300.63,445.21 L302.50,444.90 L303.53,444.29 L304.07,443.39 L304.70,442.00 L305.61,439.89 L306.61,437.29 L307.60,434.70 L308.59,432.30 L309.59,429.90 L310.50,427.50 L311.33,425.29 L312.08,423.07 L312.70,420.20 L313.11,416.32 L313.40,411.79 L313.70,407.10 L314.10,402.06 L314.51,396.86 L314.90,392.50 L315.22,389.43 L315.50,387.21 L315.80,385.50 L316.13,384.23 L316.47,383.46 L316.80,383.10 L317.11,383.19 L317.41,383.68 L317.70,384.30 L317.95,384.61 L318.19,385.06 L318.50,386.70 L318.95,390.11 L319.47,394.71 L320.00,399.80 L320.50,405.42 L321.01,411.53 L321.50,417.30 L321.94,422.57 L322.38,427.51 L322.90,431.80 L323.55,435.34 L324.29,438.24 L325.10,440.50 L325.83,442.01 L326.63,442.88 L328.00,443.50 L330.07,443.92 L332.70,444.09 L336.00,444.20 L339.81,444.31 L344.30,444.37 L350.00,444.40 L358.26,444.43 L367.74,444.44 L375.00,444.40 L378.17,444.29 L379.12,444.14 L380.00,444.00 L381.50,443.86 L382.94,443.74 L384.40,443.70 L385.56,443.82 L386.75,444.03 L389.00,444.20 L393.55,444.27 L399.16,444.29 L403.20,444.30" fill="none" stroke="#484848" stroke-width="1"/>
<text x="187.6" y="166.6" font-family="'Liberation Serif', serif" font-size="11.5" fill="#2020f0" stroke="#2020f0" stroke-width="0.15">PMeOx<tspan font-size="8.4" dy="3.8">20</tspan><tspan dy="-3.8">-Pht</tspan></text>
<text x="185.4" y="276.5" font-family="'Liberation Serif', serif" font-size="11.5" fill="#ef5424" stroke="#ef5424" stroke-width="0.15">PMeOx<tspan font-size="8.4" dy="3.8">20</tspan><tspan dy="-3.8">-NH<tspan font-size="8.4" dy="3.8">2</tspan></tspan></text>
<text x="185.4" y="357.0" font-family="'Liberation Serif', serif" font-size="11.5" fill="#111" stroke="#111" stroke-width="0.15">PMeOx<tspan font-size="8.4" dy="3.8">20</tspan><tspan dy="-3.8">-BCN</tspan></text>
<polygon points="286.00,162.20 292.18,166.69 289.82,173.96 282.18,173.96 279.82,166.69" fill="#1616f6"/>
<text x="296.2" y="171.0" font-family="'Liberation Serif', serif" font-size="11.2" letter-spacing="0.3" fill="#111" stroke="#111" stroke-width="0.2">(74%)</text>
<rect x="219.3" y="228.0" width="11" height="10.5" fill="#eaa633"/>
<text x="237" y="236.0" font-family="'Liberation Serif', serif" font-size="11.2" letter-spacing="0.3" fill="#111" stroke="#111" stroke-width="0.2">(26%)</text>
<polygon points="257.90,278.50 264.30,288.70 251.50,288.70" fill="#e4461a"/>
<polygon points="317.45,365.10 319.01,369.26 323.44,369.45 319.97,372.22 321.15,376.50 317.45,374.05 313.75,376.50 314.93,372.22 311.46,369.45 315.89,369.26" fill="#141414"/>
<text x="303.3" y="373.7" font-family="'Liberation Serif', serif" font-size="11.2" letter-spacing="0.3" fill="#111" stroke="#111" stroke-width="0.2" text-anchor="end">(79%)</text>
<text x="244.9" y="433.7" font-family="'Liberation Serif', serif" font-size="11.2" letter-spacing="0.3" fill="#111" stroke="#111" stroke-width="0.2" text-anchor="end">(21%)</text>
<polygon points="255.90,424.50 262.20,434.50 249.60,434.50" fill="#e4461a"/>
<line x1="270" y1="420.5" x2="264" y2="438.6" stroke="#333" stroke-width="1"/>
<circle cx="275.9" cy="429.6" r="5.4" fill="#84cc98"/>
<text x="433.7" y="141.6" font-family="'Liberation Serif', serif" font-size="14.5" fill="#111">(<tspan font-style="italic">d</tspan>)</text>
<rect x="432.6" y="152.0" width="220.4" height="305.3" fill="none" stroke="#5a5a5a" stroke-width="1.1"/>
<line x1="432.60" y1="457.3" x2="432.60" y2="459.5" stroke="#555" stroke-width="1"/>
<text x="432.60" y="472.5" font-family="'Liberation Serif', serif" font-size="13" text-anchor="middle" fill="#111" stroke="#111" stroke-width="0.15">4</text>
<line x1="454.64" y1="457.3" x2="454.64" y2="458.6" stroke="#555" stroke-width="1"/>
<line x1="476.68" y1="457.3" x2="476.68" y2="459.5" stroke="#555" stroke-width="1"/>
<text x="476.68" y="472.5" font-family="'Liberation Serif', serif" font-size="13" text-anchor="middle" fill="#111" stroke="#111" stroke-width="0.15">5</text>
<line x1="498.72" y1="457.3" x2="498.72" y2="458.6" stroke="#555" stroke-width="1"/>
<line x1="520.76" y1="457.3" x2="520.76" y2="459.5" stroke="#555" stroke-width="1"/>
<text x="520.76" y="472.5" font-family="'Liberation Serif', serif" font-size="13" text-anchor="middle" fill="#111" stroke="#111" stroke-width="0.15">6</text>
<line x1="542.80" y1="457.3" x2="542.80" y2="458.6" stroke="#555" stroke-width="1"/>
<line x1="564.84" y1="457.3" x2="564.84" y2="459.5" stroke="#555" stroke-width="1"/>
<text x="564.84" y="472.5" font-family="'Liberation Serif', serif" font-size="13" text-anchor="middle" fill="#111" stroke="#111" stroke-width="0.15">7</text>
<line x1="586.88" y1="457.3" x2="586.88" y2="458.6" stroke="#555" stroke-width="1"/>
<line x1="608.92" y1="457.3" x2="608.92" y2="459.5" stroke="#555" stroke-width="1"/>
<text x="608.92" y="472.5" font-family="'Liberation Serif', serif" font-size="13" text-anchor="middle" fill="#111" stroke="#111" stroke-width="0.15">8</text>
<line x1="630.96" y1="457.3" x2="630.96" y2="458.6" stroke="#555" stroke-width="1"/>
<line x1="653.00" y1="457.3" x2="653.00" y2="459.5" stroke="#555" stroke-width="1"/>
<text x="653.00" y="472.5" font-family="'Liberation Serif', serif" font-size="13" text-anchor="middle" fill="#111" stroke="#111" stroke-width="0.15">9</text>
<text x="540.6" y="490.6" font-family="'Liberation Serif', serif" font-size="13.2" text-anchor="middle" fill="#111" stroke="#111" stroke-width="0.15">elution time (min)</text>
<path d="M432.80,254.50 L433.30,254.50 L433.80,254.50 L434.30,254.50 L434.80,254.50 L435.30,254.50 L435.80,254.50 L436.30,254.50 L436.80,254.50 L437.30,254.50 L437.80,254.50 L438.30,254.50 L438.80,254.50 L439.30,254.50 L439.80,254.50 L440.30,254.50 L440.80,254.50 L441.30,254.50 L441.80,254.50 L442.30,254.50 L442.80,254.50 L443.30,254.50 L443.80,254.50 L444.30,254.50 L444.80,254.50 L445.30,254.50 L445.80,254.50 L446.30,254.50 L446.80,254.50 L447.30,254.50 L447.80,254.50 L448.30,254.50 L448.80,254.50 L449.30,254.50 L449.80,254.50 L450.30,254.50 L450.80,254.50 L451.30,254.50 L451.80,254.50 L452.30,254.50 L452.80,254.50 L453.30,254.50 L453.80,254.50 L454.30,254.50 L454.80,254.50 L455.30,254.50 L455.80,254.50 L456.30,254.50 L456.80,254.50 L457.30,254.50 L457.80,254.50 L458.30,254.50 L458.80,254.50 L459.30,254.50 L459.80,254.50 L460.30,254.48 L460.80,254.46 L461.30,254.43 L461.80,254.41 L462.30,254.38 L462.80,254.36 L463.30,254.33 L463.80,254.31 L464.30,254.28 L464.80,254.26 L465.30,254.23 L465.80,254.21 L466.30,254.18 L466.80,254.16 L467.30,254.13 L467.80,254.11 L468.30,254.08 L468.80,254.05 L469.30,254.03 L469.80,254.00 L470.30,253.97 L470.80,253.94 L471.30,253.90 L471.80,253.87 L472.30,253.83 L472.80,253.79 L473.30,253.74 L473.80,253.69 L474.30,253.64 L474.80,253.57 L475.30,253.50 L475.80,253.42 L476.30,253.32 L476.80,253.22 L477.30,253.09 L477.80,252.96 L478.30,252.80 L478.80,252.63 L479.30,252.44 L479.80,252.21 L480.30,251.97 L480.80,251.70 L481.30,251.37 L481.80,250.96 L482.30,250.45 L482.80,249.81 L483.30,248.99 L483.80,247.96 L484.30,246.71 L484.80,245.22 L485.30,243.52 L485.80,241.65 L486.30,239.72 L486.80,237.85 L487.30,236.17 L487.80,234.85 L488.30,233.99 L488.80,233.70 L489.30,233.99 L489.80,234.85 L490.30,236.17 L490.80,237.85 L491.30,239.72 L491.80,241.65 L492.30,243.52 L492.80,245.22 L493.30,246.71 L493.80,247.96 L494.30,248.99 L494.80,249.81 L495.30,250.45 L495.80,250.96 L496.30,251.37 L496.80,251.70 L497.30,251.97 L497.80,252.20 L498.30,252.40 L498.80,252.57 L499.30,252.72 L499.80,252.85 L500.30,252.96 L500.80,253.06 L501.30,253.14 L501.80,253.21 L502.30,253.26 L502.80,253.31 L503.30,253.35 L503.80,253.38 L504.30,253.41 L504.80,253.43 L505.30,253.45 L505.80,253.46 L506.30,253.47 L506.80,253.48 L507.30,253.48 L507.80,253.49 L508.30,253.49 L508.80,253.49 L509.30,253.50 L509.80,253.50 L510.30,253.50 L510.80,253.50 L511.30,253.50 L511.80,253.50 L512.30,253.50 L512.80,253.50 L513.30,253.50 L513.80,253.50 L514.30,253.50 L514.80,253.50 L515.30,253.50 L515.80,253.50 L516.30,253.50 L516.80,253.50 L517.30,253.50 L517.80,253.50 L518.30,253.50 L518.80,253.50 L519.30,253.50 L519.80,253.50 L520.30,253.50 L520.80,253.49 L521.30,253.49 L521.80,253.49 L522.30,253.48 L522.80,253.47 L523.30,253.46 L523.80,253.45 L524.30,253.43 L524.80,253.41 L525.30,253.37 L525.80,253.33 L526.30,253.27 L526.80,253.20 L527.30,253.12 L527.80,253.01 L528.30,252.88 L528.80,252.71 L529.30,252.49 L529.80,252.19 L530.30,251.75 L530.80,251.08 L531.30,250.00 L531.80,248.30 L532.30,245.67 L532.80,241.73 L533.30,236.15 L533.80,228.70 L534.30,219.37 L534.80,208.55 L535.30,197.00 L535.80,185.90 L536.30,176.59 L536.80,170.38 L537.30,168.20 L537.80,170.38 L538.30,176.59 L538.80,185.90 L539.30,197.00 L539.80,208.55 L540.30,219.37 L540.80,228.70 L541.30,236.15 L541.80,241.73 L542.30,245.67 L542.80,248.30 L543.30,250.00 L543.80,251.08 L544.30,251.75 L544.80,252.19 L545.30,252.49 L545.80,252.71 L546.30,252.88 L546.80,253.01 L547.30,253.12 L547.80,253.20 L548.30,253.27 L548.80,253.33 L549.30,253.37 L549.80,253.40 L550.30,253.43 L550.80,253.45 L551.30,253.46 L551.80,253.47 L552.30,253.48 L552.80,253.49 L553.30,253.49 L553.80,253.49 L554.30,253.50 L554.80,253.50 L555.30,253.50 L555.80,253.50 L556.30,253.49 L556.80,253.49 L557.30,253.49 L557.80,253.48 L558.30,253.47 L558.80,253.46 L559.30,253.44 L559.80,253.41 L560.30,253.38 L560.80,253.34 L561.30,253.28 L561.80,253.21 L562.30,253.12 L562.80,253.01 L563.30,252.87 L563.80,252.71 L564.30,252.52 L564.80,252.28 L565.30,251.99 L565.80,251.61 L566.30,251.10 L566.80,250.39 L567.30,249.40 L567.80,248.04 L568.30,246.25 L568.80,244.03 L569.30,241.48 L569.80,238.83 L570.30,236.39 L570.80,234.54 L571.30,233.59 L571.80,233.70 L572.30,234.85 L572.80,236.84 L573.30,239.35 L573.80,242.00 L574.30,244.50 L574.80,246.64 L575.30,248.34 L575.80,249.62 L576.30,250.55 L576.80,251.21 L577.30,251.69 L577.80,252.05 L578.30,252.33 L578.80,252.56 L579.30,252.75 L579.80,252.90 L580.30,253.03 L580.80,253.14 L581.30,253.22 L581.80,253.29 L582.30,253.35 L582.80,253.39 L583.30,253.42 L583.80,253.44 L584.30,253.46 L584.80,253.47 L585.30,253.48 L585.80,253.49 L586.30,253.49 L586.80,253.49 L587.30,253.50 L587.80,253.50 L588.30,253.50 L588.80,253.50 L589.30,253.50 L589.80,253.50 L590.30,253.50 L590.80,253.50 L591.30,253.50 L591.80,253.50 L592.30,253.50 L592.80,253.50 L593.30,253.50 L593.80,253.50 L594.30,253.50 L594.80,253.50 L595.30,253.50 L595.80,253.50 L596.30,253.50 L596.80,253.50 L597.30,253.50 L597.80,253.50 L598.30,253.50 L598.80,253.50 L599.30,253.50 L599.80,253.50 L600.30,253.50 L600.80,253.50 L601.30,253.50 L601.80,253.50 L602.30,253.50 L602.80,253.50 L603.30,253.50 L603.80,253.50 L604.30,253.50 L604.80,253.50 L605.30,253.50 L605.80,253.50 L606.30,253.50 L606.80,253.50 L607.30,253.50 L607.80,253.50 L608.30,253.50 L608.80,253.50 L609.30,253.50 L609.80,253.50 L610.30,253.50 L610.80,253.50 L611.30,253.50 L611.80,253.50 L612.30,253.50 L612.80,253.50 L613.30,253.50 L613.80,253.50 L614.30,253.50 L614.80,253.50 L615.30,253.50 L615.80,253.50 L616.30,253.50 L616.80,253.50 L617.30,253.50 L617.80,253.50 L618.30,253.50 L618.80,253.50 L619.30,253.50 L619.80,253.50 L620.30,253.50 L620.80,253.50 L621.30,253.50 L621.80,253.50 L622.30,253.50 L622.80,253.50 L623.30,253.50 L623.80,253.50 L624.30,253.50 L624.80,253.50 L625.30,253.50 L625.80,253.50 L626.30,253.50 L626.80,253.50 L627.30,253.50 L627.80,253.50 L628.30,253.50 L628.80,253.50 L629.30,253.50 L629.80,253.50 L630.30,253.50 L630.80,253.50 L631.30,253.50 L631.80,253.50 L632.30,253.50 L632.80,253.50 L633.30,253.50 L633.80,253.50 L634.30,253.50 L634.80,253.50 L635.30,253.50 L635.80,253.50 L636.30,253.50 L636.80,253.50 L637.30,253.50 L637.80,253.50 L638.30,253.50 L638.80,253.50 L639.30,253.50 L639.80,253.50 L640.30,253.50 L640.80,253.50 L641.30,253.50 L641.80,253.50 L642.30,253.50 L642.80,253.50 L643.30,253.50 L643.80,253.50 L644.30,253.50 L644.80,253.50 L645.30,253.50 L645.80,253.50 L646.30,253.50 L646.80,253.50 L647.30,253.50 L647.80,253.50 L648.30,253.50 L648.80,253.50 L649.30,253.50 L649.80,253.50 L650.30,253.50 L650.80,253.50 L651.30,253.50 L651.80,253.50 L652.30,253.50 L652.80,253.50" fill="none" stroke="#4b4bff" stroke-width="1.15"/>
<path d="M432.80,344.10 L433.32,344.10 L434.06,344.10 L434.80,344.10 L435.47,344.10 L436.13,344.10 L436.80,344.10 L437.47,344.10 L438.13,344.10 L438.80,344.10 L439.47,344.10 L440.13,344.10 L440.80,344.10 L441.47,344.10 L442.13,344.10 L442.80,344.10 L443.47,344.10 L444.13,344.10 L444.80,344.10 L445.47,344.10 L446.13,344.10 L446.80,344.10 L447.47,344.10 L448.13,344.10 L448.80,344.10 L449.47,344.10 L450.13,344.10 L450.80,344.10 L451.47,344.10 L452.13,344.10 L452.80,344.10 L453.47,344.10 L454.13,344.10 L454.80,344.10 L455.47,344.10 L456.13,344.10 L456.80,344.10 L457.47,344.10 L458.13,344.10 L458.80,344.10 L459.47,344.10 L460.13,344.10 L460.80,344.10 L461.47,344.10 L462.13,344.10 L462.80,344.10 L463.47,344.10 L464.13,344.10 L464.80,344.10 L465.47,344.10 L466.13,344.10 L466.80,344.10 L467.47,344.10 L468.13,344.10 L468.80,344.10 L469.47,344.10 L470.13,344.10 L470.80,344.10 L471.47,344.10 L472.13,344.10 L472.80,344.10 L473.47,344.10 L474.13,344.10 L474.80,344.10 L475.47,344.10 L476.13,344.10 L476.80,344.10 L477.47,344.10 L478.13,344.10 L478.80,344.10 L479.47,344.10 L480.13,344.10 L480.80,344.10 L481.47,344.10 L482.13,344.10 L482.80,344.10 L483.47,344.10 L484.13,344.10 L484.80,344.10 L485.47,344.10 L486.13,344.10 L486.80,344.10 L487.47,344.10 L488.13,344.10 L488.80,344.10 L489.47,344.10 L490.13,344.10 L490.80,344.10 L491.47,344.10 L492.13,344.10 L492.80,344.10 L493.47,344.10 L494.13,344.10 L494.80,344.10 L495.47,344.09 L496.13,344.09 L496.80,344.09 L497.47,344.09 L498.13,344.08 L498.80,344.07 L499.47,344.06 L500.13,344.05 L500.80,344.04 L501.47,344.02 L502.13,344.00 L502.80,343.97 L503.47,343.95 L504.13,343.91 L504.80,343.87 L505.47,343.81 L506.13,343.74 L506.80,343.65 L507.47,343.55 L508.13,343.43 L508.80,343.26 L509.47,343.03 L510.13,342.76 L510.80,342.44 L511.47,342.03 L512.13,341.58 L512.80,341.20 L513.47,340.89 L514.13,340.64 L514.80,340.54 L515.47,340.65 L516.13,340.90 L516.80,341.21 L517.47,341.56 L518.13,341.97 L518.80,342.33 L519.47,342.60 L520.13,342.83 L520.80,343.01 L521.47,343.15 L522.13,343.24 L522.80,343.32 L523.47,343.39 L524.13,343.44 L524.80,343.48 L525.47,343.52 L526.13,343.55 L526.80,343.58 L527.47,343.61 L528.13,343.63 L528.80,343.64 L529.47,343.66 L530.13,343.67 L530.80,343.68 L531.47,343.68 L532.13,343.69 L532.80,343.69 L533.47,343.69 L534.13,343.70 L534.80,343.70 L535.47,343.70 L536.13,343.70 L536.80,343.70 L537.47,343.70 L538.13,343.70 L538.80,343.70 L539.47,343.70 L540.13,343.70 L540.80,343.70 L541.47,343.70 L542.13,343.70 L542.80,343.70 L543.47,343.70 L544.13,343.70 L544.80,343.70 L545.47,343.70 L546.13,343.70 L546.80,343.70 L547.47,343.70 L548.13,343.70 L548.80,343.70 L549.47,343.70 L550.13,343.70 L550.80,343.70 L551.47,343.70 L552.13,343.70 L552.80,343.70 L553.46,343.70 L554.12,343.71 L554.80,343.70 L555.50,343.73 L556.21,343.76 L557.00,343.60 L557.90,343.31 L558.87,342.84 L559.80,341.90 L560.69,340.42 L561.54,338.46 L562.30,335.90 L562.90,332.67 L563.40,328.85 L563.90,324.50 L564.43,319.49 L564.97,313.95 L565.50,308.40 L566.03,302.89 L566.57,297.36 L567.10,292.20 L567.63,287.34 L568.17,282.86 L568.70,279.30 L569.24,277.04 L569.79,275.71 L570.30,274.80 L570.75,274.19 L571.16,273.99 L571.60,274.10 L572.08,274.28 L572.59,274.76 L573.10,276.10 L573.63,278.59 L574.16,281.93 L574.70,285.80 L575.23,290.21 L575.77,295.16 L576.30,300.30 L576.83,305.70 L577.36,311.28 L577.90,316.50 L578.44,321.22 L579.00,325.58 L579.60,329.40 L580.23,332.58 L580.90,335.22 L581.70,337.50 L582.69,339.48 L583.80,341.10 L584.90,342.30 L585.91,342.97 L586.90,343.23 L588.00,343.40 L588.75,343.56 L589.60,343.64 L592.00,343.70 L596.04,343.78 L601.64,343.85 L610.00,343.90 L624.01,343.91 L640.79,343.91 L652.80,343.90" fill="none" stroke="#ff4a4a" stroke-width="1"/>
<path d="M432.80,445.10 L433.32,445.10 L434.06,445.10 L434.80,445.10 L435.47,445.10 L436.13,445.10 L436.80,445.10 L437.47,445.10 L438.13,445.10 L438.80,445.10 L439.47,445.10 L440.13,445.10 L440.80,445.10 L441.47,445.10 L442.13,445.10 L442.80,445.10 L443.47,445.10 L444.13,445.10 L444.80,445.10 L445.47,445.10 L446.13,445.10 L446.80,445.10 L447.47,445.10 L448.13,445.10 L448.80,445.10 L449.47,445.10 L450.13,445.10 L450.80,445.10 L451.47,445.10 L452.13,445.10 L452.80,445.10 L453.47,445.10 L454.13,445.10 L454.80,445.10 L455.47,445.10 L456.13,445.10 L456.80,445.10 L457.47,445.10 L458.13,445.10 L458.80,445.10 L459.47,445.10 L460.13,445.10 L460.80,445.10 L461.47,445.10 L462.13,445.10 L462.80,445.10 L463.47,445.10 L464.13,445.10 L464.80,445.10 L465.47,445.10 L466.13,445.10 L466.80,445.10 L467.47,445.10 L468.13,445.10 L468.80,445.10 L469.47,445.10 L470.13,445.10 L470.80,445.10 L471.47,445.10 L472.13,445.10 L472.80,445.10 L473.47,445.10 L474.13,445.10 L474.80,445.10 L475.47,445.10 L476.13,445.10 L476.80,445.10 L477.47,445.10 L478.13,445.10 L478.80,445.10 L479.47,445.10 L480.13,445.10 L480.80,445.10 L481.47,445.10 L482.13,445.10 L482.80,445.10 L483.47,445.10 L484.13,445.10 L484.80,445.10 L485.47,445.10 L486.13,445.10 L486.80,445.10 L487.47,445.10 L488.13,445.10 L488.80,445.10 L489.47,445.10 L490.13,445.10 L490.80,445.10 L491.47,445.10 L492.13,445.10 L492.80,445.10 L493.47,445.10 L494.13,445.10 L494.80,445.09 L495.47,445.09 L496.13,445.09 L496.80,445.08 L497.47,445.08 L498.13,445.08 L498.80,445.06 L499.47,445.04 L500.13,445.01 L500.80,444.96 L501.47,444.90 L502.13,444.83 L502.80,444.75 L503.47,444.67 L504.13,444.59 L504.80,444.50 L505.47,444.41 L506.13,444.31 L506.80,444.20 L507.47,444.08 L508.13,443.95 L508.80,443.79 L509.47,443.59 L510.13,443.36 L510.80,443.11 L511.47,442.83 L512.13,442.52 L512.80,442.26 L513.47,442.03 L514.13,441.85 L514.80,441.75 L515.47,441.77 L516.13,441.87 L516.80,442.03 L517.47,442.27 L518.13,442.57 L518.80,442.86 L519.47,443.12 L520.13,443.38 L520.80,443.59 L521.47,443.75 L522.13,443.87 L522.80,443.96 L523.47,444.03 L524.13,444.07 L524.80,444.10 L525.47,444.13 L526.13,444.14 L526.80,444.16 L527.47,444.17 L528.13,444.17 L528.80,444.18 L529.47,444.19 L530.13,444.19 L530.80,444.19 L531.47,444.19 L532.13,444.20 L532.80,444.20 L533.42,444.19 L534.04,444.19 L534.80,444.20 L535.76,444.26 L536.85,444.33 L538.00,444.30 L539.27,444.28 L540.60,444.16 L541.70,443.50 L542.39,442.32 L542.84,440.61 L543.30,437.90 L543.83,433.76 L544.37,428.61 L544.90,423.30 L545.43,417.93 L545.97,412.39 L546.50,407.20 L547.03,402.57 L547.57,398.29 L548.10,394.20 L548.63,390.08 L549.17,386.14 L549.70,382.90 L550.24,380.59 L550.79,378.97 L551.30,377.80 L551.75,377.05 L552.16,376.75 L552.60,376.80 L553.08,377.02 L553.59,377.58 L554.10,378.90 L554.61,381.16 L555.13,384.17 L555.70,387.80 L556.36,392.22 L557.08,397.26 L557.80,402.30 L558.51,407.25 L559.21,412.20 L559.90,416.80 L560.53,420.96 L561.13,424.77 L561.80,428.20 L562.56,431.23 L563.39,433.89 L564.30,436.20 L565.29,438.16 L566.35,439.77 L567.50,441.10 L568.76,442.15 L570.10,442.93 L571.50,443.50 L572.99,443.88 L574.54,444.06 L576.00,444.10 L577.36,443.97 L578.64,443.69 L579.70,443.40 L580.44,443.13 L580.98,442.84 L581.50,442.60 L582.07,442.41 L582.63,442.26 L583.20,442.20 L583.80,442.26 L584.41,442.41 L585.00,442.60 L585.48,442.85 L585.94,443.14 L586.60,443.40 L587.50,443.60 L588.61,443.76 L590.00,443.90 L591.76,444.01 L593.81,444.11 L596.00,444.20 L598.33,444.34 L600.79,444.47 L603.20,444.50 L605.38,444.32 L607.51,444.03 L610.00,443.80 L612.54,443.71 L615.44,443.70 L620.00,443.70 L627.86,443.70 L637.39,443.73 L645.00,443.80 L649.16,443.96 L651.41,444.16 L652.80,444.30" fill="none" stroke="#484848" stroke-width="1"/>
<text x="439.2" y="166.8" font-family="'Liberation Serif', serif" font-size="11.5" fill="#2020f0" stroke="#2020f0" stroke-width="0.15">PMeOx<tspan font-size="8.4" dy="3.8">73</tspan><tspan dy="-3.8">-Pht</tspan></text>
<text x="439.2" y="282.0" font-family="'Liberation Serif', serif" font-size="11.5" fill="#ef5424" stroke="#ef5424" stroke-width="0.15">PMeOx<tspan font-size="8.4" dy="3.8">73</tspan><tspan dy="-3.8">-NH<tspan font-size="8.4" dy="3.8">2</tspan></tspan></text>
<text x="439.2" y="357.8" font-family="'Liberation Serif', serif" font-size="11.5" fill="#111" stroke="#111" stroke-width="0.15">PMeOx<tspan font-size="8.4" dy="3.8">73</tspan><tspan dy="-3.8">-BCN (67%)</tspan></text>
<polygon points="538.00,154.60 544.18,159.09 541.82,166.36 534.18,166.36 531.82,159.09" fill="#1616f6"/>
<text x="548.6" y="166.1" font-family="'Liberation Serif', serif" font-size="11.2" letter-spacing="0.3" fill="#111" stroke="#111" stroke-width="0.2">(57%)</text>
<rect x="482.8" y="217.4" width="10.7" height="10.2" fill="#eaa633"/>
<text x="476" y="228.1" font-family="'Liberation Serif', serif" font-size="11.2" letter-spacing="0.3" fill="#111" stroke="#111" stroke-width="0.2" text-anchor="end">(27%)</text>
<polygon points="571.50,217.90 578.20,228.10 564.80,228.10" fill="#e4461a"/>
<text x="584.2" y="225.9" font-family="'Liberation Serif', serif" font-size="11.2" letter-spacing="0.3" fill="#111" stroke="#111" stroke-width="0.2">(16%)</text>
<polygon points="571.50,259.70 578.20,269.90 564.80,269.90" fill="#e4461a"/>
<text x="558.8" y="268.0" font-family="'Liberation Serif', serif" font-size="11.2" letter-spacing="0.3" fill="#111" stroke="#111" stroke-width="0.2" text-anchor="end">(92%)</text>
<text x="476.4" y="310.6" font-family="'Liberation Serif', serif" font-size="11.2" letter-spacing="0.3" fill="#111" stroke="#111" stroke-width="0.2" text-anchor="end">(8%)</text>
<circle cx="491.8" cy="307" r="5.6" fill="#84cc98"/>
<line x1="498.5" y1="314.5" x2="508" y2="327.6" stroke="#111" stroke-width="1.4"/>
<polygon points="511.6,333.3 504.6,329.6 510.8,325.4" fill="#111"/>
<polygon points="552.70,357.70 554.33,362.06 558.98,362.26 555.34,365.16 556.58,369.64 552.70,367.07 548.82,369.64 550.06,365.16 546.42,362.26 551.07,362.06" fill="#141414"/>
<text x="560.6" y="367.6" font-family="'Liberation Serif', serif" font-size="11.2" letter-spacing="0.3" fill="#111" stroke="#111" stroke-width="0.2">(96%)</text>
<text x="483.2" y="414.1" font-family="'Liberation Serif', serif" font-size="11.2" letter-spacing="0.3" fill="#111" stroke="#111" stroke-width="0.2" text-anchor="end">(4%)</text>
<circle cx="492.5" cy="411" r="5.5" fill="#84cc98"/>
<line x1="498.8" y1="418.2" x2="508.5" y2="431.6" stroke="#111" stroke-width="1.4"/>
<polygon points="512.7,437.5 505.1,433.6 511.3,429.4" fill="#111"/>
</svg></body></html>
